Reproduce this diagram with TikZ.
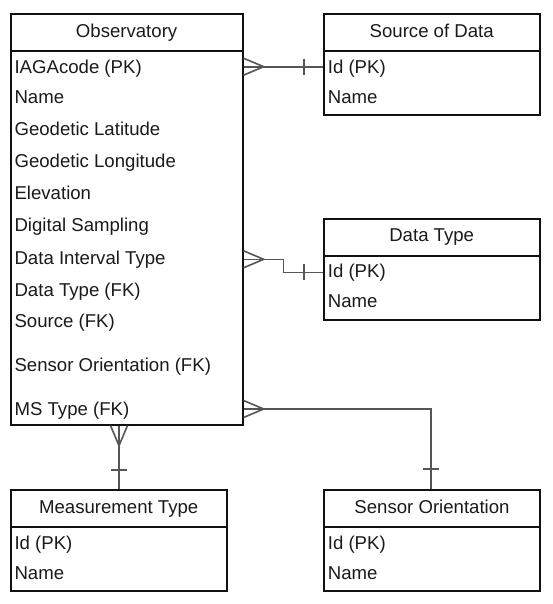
\documentclass[tikz,border=0pt]{standalone}
\usepackage{fontspec}
\setmainfont{Liberation Sans}
\usetikzlibrary{fit}
\definecolor{txt}{HTML}{1A1A1A}
\definecolor{lnk}{HTML}{555555}
\definecolor{bx}{HTML}{111111}
\begin{document}
\begin{tikzpicture}[x=0.75pt,y=-0.75pt,font=\fontsize{13.95}{16}\selectfont]
\tikzset{
  tbl/.style={draw=bx, line width=1.5pt, rectangle, inner sep=0pt},
  sepline/.style={draw=bx, line width=1.5pt},
  hdr/.style={anchor=base, inner sep=0pt, text=txt},
  row/.style={anchor=base west, inner sep=0pt, text=txt},
  link/.style={draw=lnk, line width=1.2pt},
}
\useasboundingbox (0,0) rectangle (553,604);

% ---------- Observatory ----------
\coordinate (obs-nw) at (10.7,14);
\coordinate (obs-se) at (242.5,424.5);
\node[tbl, fit=(obs-nw)(obs-se)] (obs) {};
\draw[sepline] (obs.west |- 0,51) -- (obs.east |- 0,51);
\node[hdr] (obs-t) at (126.6,37.3) {Observatory};
\node[row] (obs-r1) at (14.3,73.3) {IAGAcode (PK)};
\node[row] (obs-r2) at (14.3,103.3) {Name};
\node[row] (obs-r3) at (14.3,135) {Geodetic Latitude};
\node[row] (obs-r4) at (14.3,167.3) {Geodetic Longitude};
\node[row] (obs-r5) at (14.3,199.3) {Elevation};
\node[row] (obs-r6) at (14.3,231.6) {Digital Sampling};
\node[row] (obs-r7) at (14.3,264) {Data Interval Type};
\node[row] (obs-r8) at (14.3,296.6) {Data Type (FK)};
\node[row] (obs-r9) at (14.3,327.6) {Source (FK)};
\node[row] (obs-r10) at (14.3,371.6) {Sensor Orientation (FK)};
\node[row] (obs-r11) at (14.3,415) {MS Type (FK)};

% ---------- Source of Data ----------
\coordinate (src-nw) at (324,14);
\coordinate (src-se) at (539.5,115);
\node[tbl, fit=(src-nw)(src-se)] (src) {};
\draw[sepline] (src.west |- 0,51) -- (src.east |- 0,51);
\node[hdr] (src-t) at (431.7,37.3) {Source of Data};
\node[row] (src-r1) at (327.6,73.3) {Id (PK)};
\node[row] (src-r2) at (327.6,103.3) {Name};

% ---------- Data Type ----------
\coordinate (dt-nw) at (324,219);
\coordinate (dt-se) at (539.5,320);
\node[tbl, fit=(dt-nw)(dt-se)] (dt) {};
\draw[sepline] (dt.west |- 0,256) -- (dt.east |- 0,256);
\node[hdr] (dt-t) at (431.7,241.6) {Data Type};
\node[row] (dt-r1) at (327.6,277.3) {Id (PK)};
\node[row] (dt-r2) at (327.6,307.6) {Name};

% ---------- Measurement Type ----------
\coordinate (mt-nw) at (10.7,490);
\coordinate (mt-se) at (226.7,591);
\node[tbl, fit=(mt-nw)(mt-se)] (mt) {};
\draw[sepline] (mt.west |- 0,527) -- (mt.east |- 0,527);
\node[hdr] (mt-t) at (118.7,513.3) {Measurement Type};
\node[row] (mt-r1) at (14.3,549.9) {Id (PK)};
\node[row] (mt-r2) at (14.3,579.9) {Name};

% ---------- Sensor Orientation ----------
\coordinate (so-nw) at (324,490);
\coordinate (so-se) at (540,591);
\node[tbl, fit=(so-nw)(so-se)] (so) {};
\draw[sepline] (so.west |- 0,527) -- (so.east |- 0,527);
\node[hdr] (so-t) at (432,513.3) {Sensor Orientation};
\node[row] (so-r1) at (327.6,549.9) {Id (PK)};
\node[row] (so-r2) at (327.6,579.9) {Name};

% ---------- Connector end points ----------
\coordinate (c1o) at (obs.east |- 0,66.7);
\coordinate (c1s) at (src.west |- 0,66.7);
\coordinate (c2o) at (obs.east |- 0,259.3);
\coordinate (c2s) at (dt.west |- 0,272.3);
\coordinate (c3o) at (obs.south -| 119,0);
\coordinate (c3s) at (mt.north -| 119,0);
\coordinate (c4o) at (obs.east |- 0,409);
\coordinate (c4s) at (so.north -| 431,0);

% Observatory -- Source of Data
\draw[link] (c1o) -- (c1s);
\draw[link] (c1o) ++(0,-8.5) -- ++(20.2,8.5) -- ++(-20.2,8.5);
\draw[link] (c1s) ++(-19,-8) -- ++(0,16);

% Observatory -- Data Type
\draw[link] (c2o) -- (c2o -| 283.3,0) -- (c2s -| 283.3,0) -- (c2s);
\draw[link] (c2o) ++(0,-8.5) -- ++(20.2,8.5) -- ++(-20.2,8.5);
\draw[link] (c2s) ++(-19,-8) -- ++(0,16);

% Observatory -- Measurement Type
\draw[link] (c3o) -- (c3s);
\draw[link] (c3o) ++(-8.5,0) -- ++(8.5,20.2) -- ++(8.5,-20.2);
\draw[link] (c3s) ++(-8,-19.3) -- ++(16,0);

% Observatory -- Sensor Orientation
\draw[link] (c4o) -- (c4o -| c4s) -- (c4s);
\draw[link] (c4o) ++(0,-8.5) -- ++(20.2,8.5) -- ++(-20.2,8.5);
\draw[link] (c4s) ++(-8,-20) -- ++(16,0);
\end{tikzpicture}
\end{document}
